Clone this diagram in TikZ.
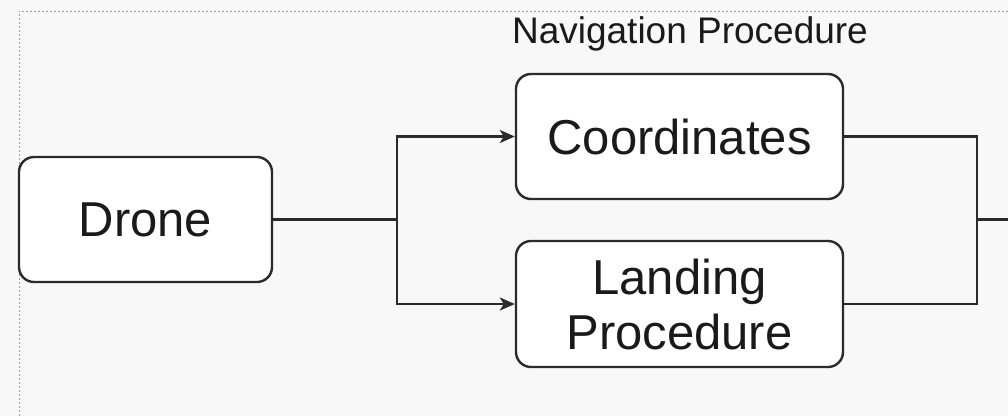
\documentclass[tikz,border=0pt]{standalone}
\usepackage{fontspec}
\setmainfont{Liberation Sans}
\usetikzlibrary{arrows.meta}
\definecolor{bgcol}{HTML}{F8F8F8}
\definecolor{linecol}{HTML}{2A2A2A}
\definecolor{textcol}{HTML}{1A1A1A}
\definecolor{bordercol}{HTML}{A0A0A0}
\tikzset{
  box/.style={draw=linecol, line width=2.4pt, fill=white, rounded corners=15pt,
    text=textcol, font=\fontsize{49}{55}\selectfont, align=center, inner sep=0pt},
  conn/.style={draw=linecol, line width=2.4pt},
  arr/.style={conn, -{Stealth[length=15pt,width=13pt,inset=4pt]}},
  titletext/.style={text=textcol, font=\fontsize{37}{40}\selectfont, inner sep=0pt},
  frame/.style={draw=bordercol, line width=1pt, dash pattern=on 2pt off 2pt}
}
\begin{document}
\begin{tikzpicture}[x=1pt,y=-1pt]
\fill[bgcol] (0,0) rectangle (1008,416);
\useasboundingbox (0,0) rectangle (1008,416);
\draw[frame] (19,416) -- (19,11) -- (1008,11);
\node[box, minimum width=253pt, minimum height=125pt] (drone) at (145.5,219.5) {Drone};
\node[box, minimum width=327pt, minimum height=125pt] (coord) at (679.5,136.5) {Coordinates};
\node[box, minimum width=327pt, minimum height=126pt] (land) at (679.5,304) {Landing\\Procedure};
\node[titletext] (title) at (690,34) {Navigation Procedure};
\coordinate (split) at (397,219.5);
\coordinate (join) at (977,219.5);
\coordinate (out) at (1008,219.5);
\draw[conn] (drone.east) -- (split);
\draw[arr] (split) |- (coord.west);
\draw[arr] (split) |- (land.west);
\draw[conn] (coord.east) -| (join);
\draw[conn] (land.east) -| (join);
\draw[conn] (join) -- (out);
\end{tikzpicture}
\end{document}
